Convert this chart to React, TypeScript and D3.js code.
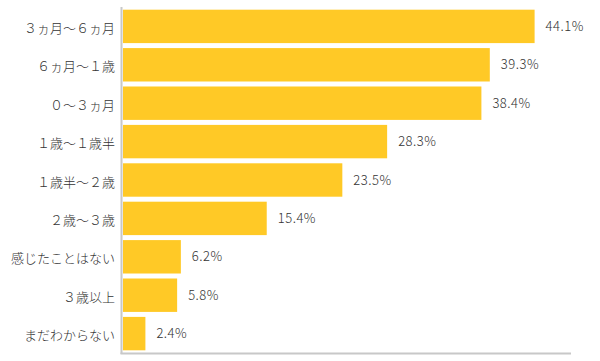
import React from "react";
import * as d3 from "d3";

const categories = [
  "３ヵ月～６ヵ月",
  "６ヵ月～１歳",
  "０～３ヵ月",
  "１歳～１歳半",
  "１歳半～２歳",
  "２歳～３歳",
  "感じたことはない",
  "３歳以上",
  "まだわからない",
];
const values = [44.1, 39.3, 38.4, 28.3, 23.5, 15.4, 6.2, 5.8, 2.4];
const xDomain = [0, 48];

const W = 600;
const H = 361;
const FONT = "'Noto Sans CJK JP', 'Noto Sans', sans-serif";

export default function App() {
  const x = d3.scaleLinear().domain(xDomain).range([123, 571]);
  const y = d3.scaleBand<string>().domain(categories).range([7, 353]).paddingInner(0.13).paddingOuter(0.07);
  return (
    <svg width={W} height={H} style={{ position: "absolute", left: 0, top: 0 }}>
      <rect width={W} height={H} fill="#fff" />
      {categories.map((c, i) => (
        <g key={c}>
          <rect x={x(0)} y={y(c)} width={x(values[i]) - x(0)} height={y.bandwidth()} fill="#FFC926" />
          <text
            x={115}
            y={(y(c) as number) + y.bandwidth() / 2 + 3}
            textAnchor="end"
            dominantBaseline="middle"
            fontFamily={FONT}
            fontSize={13}
            fontWeight={300}
            fill="#333"
          >
            {c}
          </text>
          <text
            x={x(values[i]) + 11}
            y={(y(c) as number) + y.bandwidth() / 2 + 1}
            dominantBaseline="middle"
            fontFamily={FONT}
            fontSize={13}
            fontWeight={300}
            letterSpacing={0.5}
            fill="#333"
          >
            {values[i].toFixed(1)}%
          </text>
        </g>
      ))}
      <line x1={121.5} x2={121.5} y1={7} y2={354} stroke="#c8c8c8" strokeWidth={2} />
      <line x1={120.5} x2={571} y1={353.5} y2={353.5} stroke="#c8c8c8" strokeWidth={2} />
    </svg>
  );
}
